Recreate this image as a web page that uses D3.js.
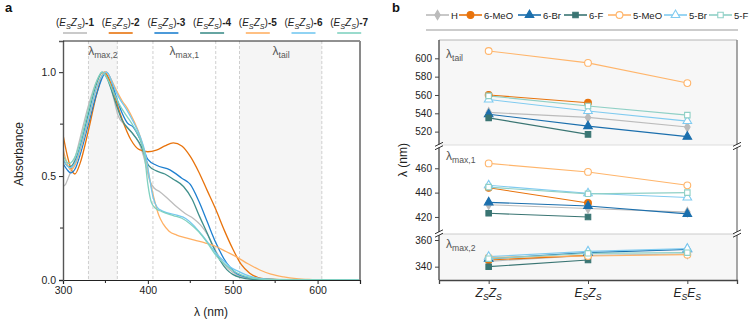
<!DOCTYPE html>
<html><head><meta charset="utf-8">
<script src="https://cdn.jsdelivr.net/npm/d3@7/dist/d3.min.js"></script>
<style>body{margin:0;background:#fff}svg{font-family:"Liberation Sans",Arial,sans-serif}</style>
</head><body><svg id="c" width="752" height="321"></svg>
<script>
// ---------------- Panel a data ----------------
const compoundIds = ["1","2","3","4","5","6","7"];
const compoundColors = ["#bdbdbd","#e8730c","#1f80d0","#3f8f8b","#ffb064","#74c8f0","#80d2c0"];
const spec1 = [[300,0.45],[303,0.46],[306,0.49],[310,0.53],[315,0.6],[320,0.68],[330,0.84],[340,0.96],[348,1.0],[355,0.95],[360,0.87],[365,0.79],[372,0.75],[380,0.715],[390,0.655],[396,0.58],[402,0.48],[408,0.44],[414,0.425],[424,0.39],[434,0.352],[444,0.32],[454,0.295],[462,0.265],[470,0.22],[480,0.14],[490,0.075],[500,0.037],[510,0.016],[520,0.007],[540,0.002],[600,0],[650,0]];
const spec2 = [[300,0.70],[305,0.60],[310,0.53],[314,0.51],[320,0.56],[330,0.72],[340,0.9],[349,1.0],[355,0.96],[360,0.9],[365,0.83],[370,0.77],[380,0.675],[390,0.627],[400,0.617],[410,0.625],[420,0.645],[430,0.66],[440,0.645],[450,0.595],[460,0.52],[470,0.43],[480,0.34],[490,0.24],[500,0.15],[510,0.075],[520,0.033],[530,0.012],[540,0.005],[560,0.001],[650,0]];
const spec3 = [[300,0.56],[305,0.53],[309,0.515],[315,0.54],[320,0.6],[330,0.75],[340,0.9],[351,1.0],[357,0.96],[362,0.89],[370,0.8],[376,0.755],[383,0.735],[391,0.675],[400,0.58],[410,0.552],[426,0.53],[440,0.49],[450,0.46],[460,0.38],[470,0.28],[480,0.18],[490,0.1],[497,0.06],[505,0.03],[516,0.014],[530,0.005],[560,0.001],[650,0]];
const spec4 = [[300,0.58],[305,0.55],[308,0.545],[315,0.58],[320,0.64],[330,0.8],[340,0.95],[346,1.0],[352,0.97],[359,0.89],[369,0.775],[383,0.7],[392,0.645],[401,0.55],[410,0.525],[420,0.51],[430,0.485],[442,0.45],[452,0.39],[461,0.305],[470,0.225],[477,0.16],[485,0.095],[493,0.05],[500,0.027],[510,0.011],[520,0.004],[540,0.001],[650,0]];
const spec5 = [[300,0.63],[305,0.56],[309,0.53],[315,0.56],[320,0.62],[330,0.77],[340,0.93],[350,1.0],[356,0.97],[362,0.92],[370,0.86],[376,0.825],[383,0.77],[391,0.69],[397,0.6],[402,0.49],[408,0.38],[413,0.31],[418,0.27],[425,0.235],[434,0.216],[445,0.203],[455,0.192],[468,0.178],[481,0.16],[492,0.137],[505,0.11],[518,0.078],[532,0.048],[545,0.028],[560,0.015],[575,0.007],[590,0.003],[610,0.001],[650,0]];
const spec6 = [[300,0.58],[305,0.55],[308,0.54],[315,0.57],[320,0.63],[330,0.78],[340,0.93],[351,1.0],[357,0.96],[362,0.91],[367,0.87],[375,0.82],[383,0.76],[391,0.69],[397,0.61],[402,0.49],[406,0.4],[411,0.35],[418,0.33],[434,0.312],[445,0.295],[454,0.263],[463,0.22],[473,0.168],[481,0.125],[489,0.094],[497,0.063],[505,0.045],[515,0.026],[525,0.013],[540,0.004],[560,0.001],[650,0]];
const spec7 = [[300,0.6],[304,0.57],[307,0.56],[315,0.6],[320,0.66],[330,0.82],[340,0.96],[346,1.0],[352,0.97],[360,0.9],[367,0.84],[375,0.79],[383,0.74],[390,0.685],[396,0.6],[400,0.46],[404,0.375],[409,0.345],[416,0.33],[430,0.31],[440,0.297],[450,0.27],[460,0.232],[470,0.18],[480,0.12],[490,0.078],[500,0.046],[510,0.025],[520,0.012],[540,0.003],[650,0]];
const spectra = [spec1,spec2,spec3,spec4,spec5,spec6,spec7];
const shadedBands = [[330,364],[508,605]];
const dashedWavelengths = [330,364,406,480,508,605];
const bandLabels = [{wl:347,sub:"max,2"},{wl:443,sub:"max,1"},{wl:557,sub:"tail"}];
const xTicksA = [300,400,500,600];
const xMinorA = [350,450,550];
const yTicksA = [0,0.5,1.0];
const yMinorA = [0.25,0.75];

// ---------------- Panel b data ----------------
const isomers = [["Z","Z"],["E","Z"],["E","E"]];
const substituents = ["H","6-MeO","6-Br","6-F","5-MeO","5-Br","5-F"];
const subColors = ["#bbbbbb","#e8730c","#1b6fad","#3a7573","#ffb56b","#80cbf0","#8fd0c6"];
const subSymbols = ["diamond","circle","triangle","square","circle","triangle","square"];
const subFilled = [true,true,true,true,false,false,false];
const lambdaTail = [[541,535.5,525],[560,551.5,null],[539,526,514.5],[535,517,null],[608,595,573],[555,542.5,531.5],[559,548,538]];
const lambdaMax1 = [[430,427,424],[444,431.5,null],[432,429,422.5],[423,420,null],[464,457,446],[446,439.5,436],[444.5,439,440]];
const lambdaMax2 = [[344,348.5,349.5],[345,348.5,null],[346,350.5,353],[340,345,null],[347,348,349],[347.5,351.5,353.5],[346,350,350.5]];
const ticksTail = [520,540,560,580,600];
const ticksM1 = [420,440,460];
const ticksM2 = [340,360];

const svg = d3.select("#c");
const ink = "#222";

function subText(sel, x, y, parts, opts={}) {
  const size = opts.size||11;
  const t = sel.append("text").attr("x",x).attr("y",y)
    .attr("font-size",size).attr("fill",opts.fill||ink)
    .attr("text-anchor",opts.anchor||"start");
  let down=false;
  parts.forEach(p=>{
    const s = t.append("tspan").text(p.t);
    if (p.italic) s.attr("font-style","italic");
    if (p.bold) s.attr("font-weight","bold");
    if (p.sub && !down){ s.attr("dy",3).attr("font-size",size*0.72); down=true; }
    else if (p.sub) s.attr("font-size",size*0.72);
    else if (!p.sub && down){ s.attr("dy",-3); down=false; }
  });
  return t;
}

// ================= PANEL A =================
const A = {l:63,r:360,t:41,b:280};
const xA = d3.scaleLinear().domain([300,650]).range([A.l,A.r]);
const yA = d3.scaleLinear().domain([0,1.15]).range([A.b,A.t]);
const ga = svg.append("g");

ga.selectAll("rect.band").data(shadedBands).join("rect")
  .attr("x",d=>xA(d[0])).attr("width",d=>xA(d[1])-xA(d[0]))
  .attr("y",A.t).attr("height",A.b-A.t).attr("fill","#f5f5f5");
ga.selectAll("line.dash").data(dashedWavelengths).join("line")
  .attr("x1",d=>xA(d)).attr("x2",d=>xA(d)).attr("y1",A.t).attr("y2",A.b)
  .attr("stroke","#cfcfcf").attr("stroke-dasharray","3,2").attr("stroke-width",1);
bandLabels.forEach(b=>{
  subText(ga, xA(b.wl), 55, [{t:"λ"},{t:b.sub,sub:true}], {size:12, fill:"#555", anchor:"middle"});
});

svg.append("clipPath").attr("id","clipA").append("rect")
  .attr("x",A.l).attr("y",A.t).attr("width",A.r-A.l).attr("height",A.b-A.t);
const lineA = d3.line().x(d=>xA(d[0])).y(d=>yA(d[1])).curve(d3.curveMonotoneX);
ga.append("g").attr("clip-path","url(#clipA)").selectAll("path").data(spectra).join("path")
  .attr("d",lineA).attr("fill","none").attr("stroke",(d,i)=>compoundColors[i]).attr("stroke-width",1.3);

const axB = ga.append("g").attr("transform",`translate(0,${A.b})`)
  .call(d3.axisBottom(xA).tickValues(xTicksA).tickSize(4).tickPadding(3));
axB.append("g").selectAll("line").data(xMinorA).join("line")
  .attr("x1",d=>xA(d)).attr("x2",d=>xA(d)).attr("y1",0).attr("y2",3).attr("stroke",ink);
const axL = ga.append("g").attr("transform",`translate(${A.l},0)`)
  .call(d3.axisLeft(yA).tickValues(yTicksA).tickFormat(d3.format(".1f")).tickSize(4).tickPadding(3));
axL.append("g").selectAll("line").data(yMinorA).join("line")
  .attr("y1",d=>yA(d)).attr("y2",d=>yA(d)).attr("x1",0).attr("x2",-3).attr("stroke",ink);
[axB,axL].forEach(a=>{
  a.selectAll("text").attr("font-size",10.5).attr("fill",ink).attr("font-family","Liberation Sans, Arial");
  a.selectAll(".tick line").attr("stroke",ink);
  a.select(".domain").attr("stroke",ink).attr("stroke-width",1.2);
});
axL.select(".domain").attr("stroke","#555").attr("stroke-width",1.4);
ga.append("line").attr("x1",A.l).attr("x2",A.r).attr("y1",A.t).attr("y2",A.t).attr("stroke",ink).attr("stroke-width",1);
ga.append("line").attr("x1",A.r).attr("x2",A.r).attr("y1",A.t).attr("y2",A.b).attr("stroke","#8a8a8a").attr("stroke-width",2);

ga.append("text").attr("transform",`translate(23,154) rotate(-90)`).attr("text-anchor","middle")
  .attr("font-size",12).attr("fill",ink).text("Absorbance");
ga.append("text").attr("x",211).attr("y",316).attr("text-anchor","middle").attr("font-size",12).attr("fill",ink).text("λ (nm)");

// legend a
compoundIds.forEach((id,i)=>{
  const cx = 75 + i*45.7;
  subText(ga, cx, 26, [{t:"("},{t:"E",italic:true},{t:"S",sub:true,italic:true},{t:"Z",italic:true},{t:"S",sub:true,italic:true},{t:")"},{t:"-"+id,bold:true}], {size:10, anchor:"middle"});
  ga.append("line").attr("x1",cx-12).attr("x2",cx+12).attr("y1",33).attr("y2",33)
    .attr("stroke",compoundColors[i]).attr("stroke-width",1.6);
});
svg.append("text").attr("x",5).attr("y",12).attr("font-size",13).attr("font-weight","bold").attr("fill","#111").text("a");

// ================= PANEL B =================
const B = {l:439,r:737,t:40,b:280};
const xB = d3.scalePoint().domain(isomers.map(d=>d.join(""))).range([B.l,B.r]).padding(0.5);
const sections = [
  {vals:lambdaTail, ticks:ticksTail, scale:d3.scaleLinear().domain([505.4,620]).range([145,40]), top:40, bot:145, bg:"#f7f7f7", sub:"tail", ly:58},
  {vals:lambdaMax1, ticks:ticksM1, scale:d3.scaleLinear().domain([406.8,477.5]).range([233,147]), top:147, bot:233, bg:"#ffffff", sub:"max,1", ly:160},
  {vals:lambdaMax2, ticks:ticksM2, scale:d3.scaleLinear().domain([330,364.5]).range([280,234]), top:234, bot:280, bg:"#f7f7f7", sub:"max,2", ly:248}
];
const gb = svg.append("g");
const symMap = {diamond:d3.symbolDiamond, circle:d3.symbolCircle, triangle:d3.symbolTriangle, square:d3.symbolSquare};
const symSize = {diamond:26, circle:36, triangle:32, square:30};

sections.forEach(s=>{
  gb.append("rect").attr("x",B.l).attr("y",s.top).attr("width",B.r-B.l).attr("height",s.bot-s.top).attr("fill",s.bg);
});
gb.append("line").attr("x1",B.l).attr("x2",B.r).attr("y1",40).attr("y2",40).attr("stroke","#b5b5b5");
gb.append("line").attr("x1",B.l).attr("x2",B.r).attr("y1",145).attr("y2",145).attr("stroke","#dddddd");
gb.append("line").attr("x1",B.l).attr("x2",B.r).attr("y1",234).attr("y2",234).attr("stroke","#cccccc");

sections.forEach(s=>{
  subText(gb, 446, s.ly, [{t:"λ"},{t:s.sub,sub:true}], {size:12, fill:"#555"});
  const ax = gb.append("g").attr("transform",`translate(${B.l},0)`)
    .call(d3.axisLeft(s.scale).tickValues(s.ticks).tickSize(4).tickPadding(3));
  ax.select(".domain").remove();
  ax.selectAll("text").attr("font-size",10).attr("fill",ink).attr("font-family","Liberation Sans, Arial");
  ax.selectAll(".tick line").attr("stroke","#444");
  substituents.forEach((name,i)=>{
    const pts = s.vals[i].map((v,j)=>[j,v]).filter(p=>p[1]!==null);
    gb.append("path").datum(pts)
      .attr("d",d3.line().x(p=>xB(isomers[p[0]].join(""))).y(p=>s.scale(p[1])))
      .attr("fill","none").attr("stroke",subColors[i]).attr("stroke-width",1.1);
  });
  substituents.forEach((name,i)=>{
    const pts = s.vals[i].map((v,j)=>[j,v]).filter(p=>p[1]!==null);
    gb.selectAll(null).data(pts).join("path")
      .attr("transform",p=>`translate(${xB(isomers[p[0]].join(""))},${s.scale(p[1])})`)
      .attr("d",d3.symbol(symMap[subSymbols[i]], symSize[subSymbols[i]]))
      .attr("fill",subFilled[i]?subColors[i]:"#fff").attr("stroke",subColors[i]).attr("stroke-width",1.1);
  });
});

gb.append("line").attr("x1",B.l).attr("x2",B.l).attr("y1",B.t).attr("y2",B.b).attr("stroke","#444").attr("stroke-width",1.3);
gb.append("line").attr("x1",B.r).attr("x2",B.r).attr("y1",B.t).attr("y2",B.b).attr("stroke","#8a8a8a").attr("stroke-width",1.5);
const axXB = gb.append("g").attr("transform",`translate(0,${B.b})`)
  .call(d3.axisBottom(xB).tickSize(4).tickFormat(""));
axXB.select(".domain").attr("stroke","#444").attr("stroke-width",1.3);
axXB.selectAll(".tick line").attr("stroke","#444");
isomers.forEach(iso=>{
  subText(gb, xB(iso.join("")), 297, [{t:iso[0],italic:true},{t:"S",sub:true,italic:true},{t:iso[1],italic:true},{t:"S",sub:true,italic:true}], {size:12, anchor:"middle"});
});
[[B.l,146],[B.l,233.5],[B.r,146],[B.r,233.5]].forEach(([x,y])=>{
  gb.append("rect").attr("x",x-2).attr("y",y-1.5).attr("width",4).attr("height",3).attr("fill","#fff");
  [-1.7,1.7].forEach(o=>{
    gb.append("line").attr("x1",x-4).attr("x2",x+4).attr("y1",y+o+2).attr("y2",y+o-2)
      .attr("stroke","#333").attr("stroke-width",1);
  });
});
gb.append("text").attr("transform",`translate(407,160) rotate(-90)`).attr("text-anchor","middle")
  .attr("font-size",12).attr("fill",ink).text("λ (nm)");

// legend b
const legendLineStarts = [426,459,518,564,608,664,709];
substituents.forEach((name,i)=>{
  const lx = legendLineStarts[i];
  gb.append("line").attr("x1",lx).attr("x2",lx+23).attr("y1",15).attr("y2",15).attr("stroke",subColors[i]).attr("stroke-width",1.6);
  gb.append("path").attr("transform",`translate(${lx+11.5},15)`)
    .attr("d",d3.symbol(symMap[subSymbols[i]], symSize[subSymbols[i]]))
    .attr("fill",subFilled[i]?subColors[i]:"#fff").attr("stroke",subColors[i]).attr("stroke-width",1.1);
  gb.append("text").attr("x",lx+25).attr("y",18.5).attr("font-size",9.5).attr("fill",ink).text(name);
});
gb.append("line").attr("x1",426).attr("x2",738).attr("y1",30).attr("y2",30).attr("stroke","#999").attr("stroke-width",1);
svg.append("text").attr("x",392).attr("y",12).attr("font-size",13).attr("font-weight","bold").attr("fill","#111").text("b");
</script></body></html>
